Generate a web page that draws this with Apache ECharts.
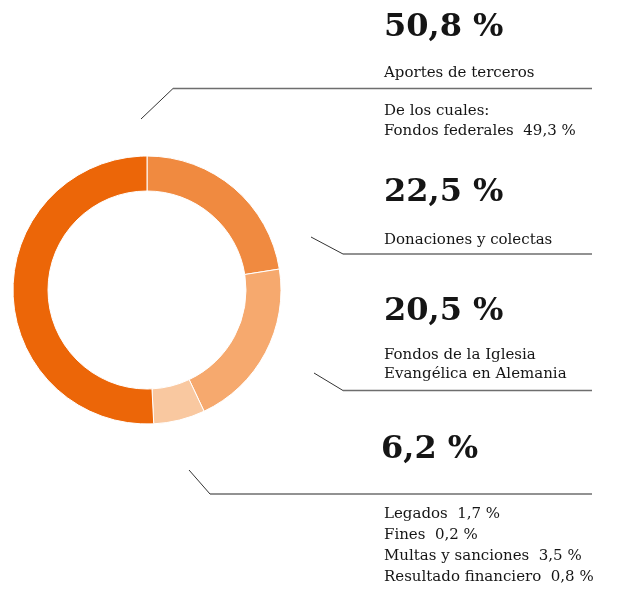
<!DOCTYPE html>
<html>
<head>
<meta charset="utf-8">
<script src="https://cdn.jsdelivr.net/npm/echarts@6/dist/echarts.min.js"></script>
<style>
  html, body { margin: 0; padding: 0; background: #fff; }
  #main { width: 622px; height: 590px; }
</style>
</head>
<body>
<div id="main"></div>
<script>
// datos (sentido horario desde arriba)
const categories = ['Donaciones y colectas', 'Fondos de la Iglesia Evangélica en Alemania', 'Otros ingresos', 'Aportes de terceros'];
const values = [22.5, 20.5, 6.2, 50.8];
const valueLabels = ['22,5 %', '20,5 %', '6,2 %', '50,8 %'];
const palette = ['#f08a40', '#f6a96e', '#f9c8a0', '#ec6608'];

const federalLabel = 'Fondos federales  49,3 %';
const otherItems = ['Legados  1,7 %', 'Fines  0,2 %', 'Multas y sanciones  3,5 %', 'Resultado financiero  0,8 %'];

var myChart = echarts.init(document.getElementById('main'));

const serif = '"DejaVu Serif", "Liberation Serif", serif';
const ink = '#151515';

function txt(x, y, text, size, bold) {
  return {
    type: 'text', x: x, y: y,
    style: {
      text: text, fill: ink,
      font: (bold ? 'bold ' : '') + size + 'px ' + serif,
      verticalAlign: 'middle'
    }
  };
}
function leader(pts) {
  return [
    { type: 'polyline', shape: { points: pts.slice(0, 2) }, style: { stroke: '#333', lineWidth: 1, fill: null } },
    { type: 'polyline', shape: { points: pts.slice(1) }, style: { stroke: '#6e6e6e', lineWidth: 1.5, fill: null } }
  ];
}

var graphics = [];
// Aportes de terceros
graphics.push(txt(384, 28, valueLabels[3], 32, true));
graphics.push(txt(384, 73, 'Aportes de terceros', 15));
graphics.push(txt(384, 111, 'De los cuales:', 15));
graphics.push(txt(384, 131, federalLabel, 15));
// Donaciones
graphics.push(txt(384, 193, valueLabels[0], 32, true));
graphics.push(txt(384, 240, categories[0], 15));
// Iglesia
graphics.push(txt(384, 312, valueLabels[1], 32, true));
graphics.push(txt(384, 355, 'Fondos de la Iglesia', 15));
graphics.push(txt(384, 374, 'Evangélica en Alemania', 15));
// Otros
graphics.push(txt(381, 450, valueLabels[2], 32, true));
otherItems.forEach(function (s, i) {
  graphics.push(txt(384, 514 + i * 21, s, 15));
});
// líneas
graphics = graphics.concat(
  leader([[141, 119], [173, 88.5], [592, 88.5]]),
  leader([[311, 237], [343, 254], [592, 254]]),
  leader([[314, 373], [343, 390.5], [592, 390.5]]),
  leader([[189, 470], [210, 494], [592, 494]])
);

var option = {
  animation: false,
  graphic: graphics,
  series: [{
    type: 'pie',
    center: [147, 290],
    radius: [99, 134],
    startAngle: 90,
    clockwise: true,
    silent: true,
    label: { show: false },
    labelLine: { show: false },
    itemStyle: { borderColor: '#fff', borderWidth: 1 },
    data: categories.map(function (c, i) {
      return { name: c, value: values[i], itemStyle: { color: palette[i] } };
    })
  }]
};

myChart.setOption(option);
</script>
</body>
</html>
